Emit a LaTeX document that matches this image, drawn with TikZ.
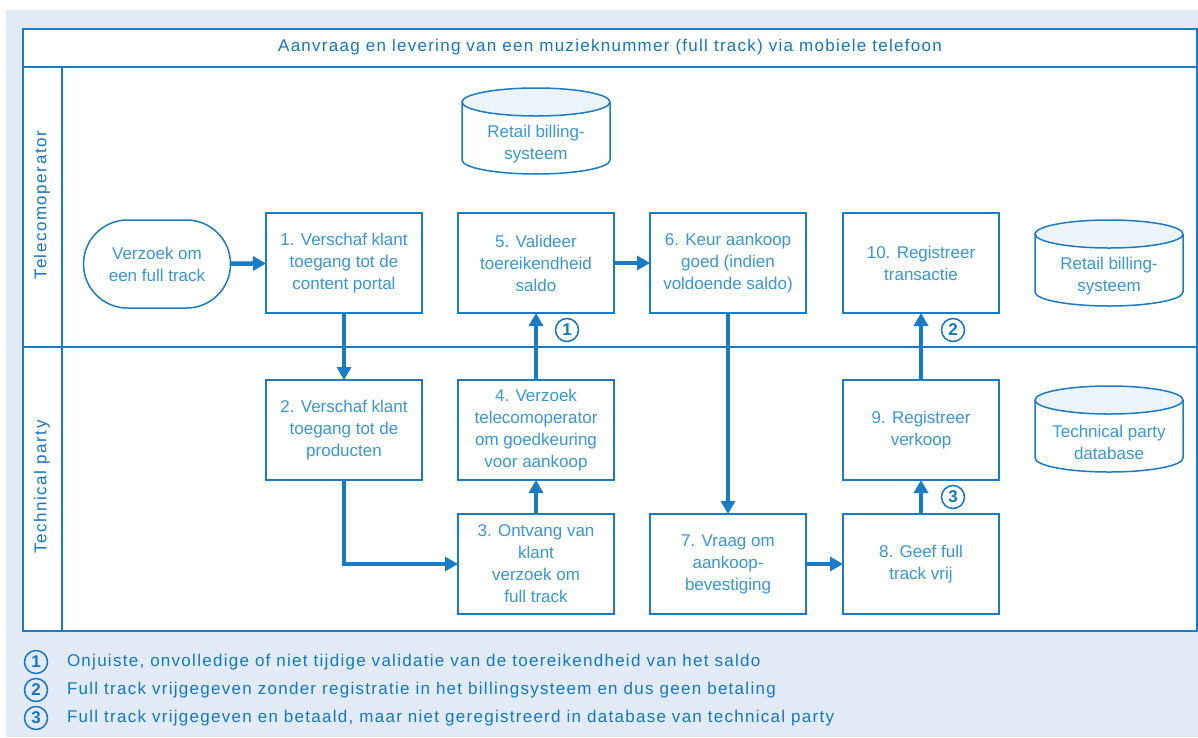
\documentclass[tikz,border=0pt]{standalone}
\usepackage{fontspec}
\setmainfont{Liberation Sans}
\newfontfamily\widefont[LetterSpace=7.5]{Liberation Sans}
\newfontfamily\lanefont[LetterSpace=9]{Liberation Sans}
\usetikzlibrary{arrows.meta}
\definecolor{bgblue}{HTML}{E1EAF5}
\definecolor{lineblue}{HTML}{1A7CC6}
\definecolor{boxtext}{HTML}{3A97D7}
\definecolor{darkblue}{HTML}{1577C2}
\definecolor{dbfill}{HTML}{EDF3FA}

\begin{document}
\begin{tikzpicture}[x=1pt,y=-1pt,
	every node/.style={inner sep=1,outer sep=0,font=\fontsize{17}{22}\selectfont},
	stepbox/.style={draw=lineblue,line width=1.5pt,fill=white,minimum width=156pt,minimum height=100pt,align=center,text=boxtext},
	startbox/.style={draw=lineblue,line width=1.5pt,rounded corners=44pt,minimum width=147pt,minimum height=88pt,align=center,text=boxtext},
	dbnode/.style={minimum width=148pt,minimum height=87pt,align=center,text=boxtext,yshift=-13pt},
	flow/.style={draw=lineblue,line width=4.5pt,-{Triangle[length=13pt,width=14pt]}},
	wide/.style={text=darkblue,font=\fontsize{17}{22}\selectfont\widefont},
	lane/.style={text=darkblue,rotate=90,font=\fontsize{17}{22}\selectfont\lanefont},
	num/.style={circle,draw=darkblue,line width=1.5pt,minimum size=23pt,inner sep=0,text=darkblue,font=\fontsize{17}{17}\selectfont\bfseries}]
	% background and frame
	\useasboundingbox (0,0) rectangle (1198,737);
	\fill[bgblue] (6,10) rectangle (1198,737);
	\draw[lineblue,line width=1.5pt,fill=white] (23,29) rectangle (1197,631);
	\draw[lineblue,line width=1.5pt] (23,67) -- (1197,67);
	\draw[lineblue,line width=1.5pt] (23,347) -- (1197,347);
	\draw[lineblue,line width=1.5pt] (62,67) -- (62,631);
	\node[wide] (title) at (610,47) {Aanvraag en levering van een muzieknummer (full track) via mobiele telefoon};
	\node[lane] (lane1) at (42,205) {Telecomoperator};
	\node[lane] (lane2) at (42,487) {Technical party};
	% databases
	\foreach \n/\x/\y/\t in {db1/536/131/{Retail billing-\\systeem},db2/1109/263/{Retail billing-\\systeem},db3/1109/429/{Technical party\\database}}{
		\fill[white] (\x-74,\y-29) rectangle (\x+74,\y+29);
		\fill[dbfill] (\x,\y-29) ellipse (74 and 14);
		\draw[lineblue,line width=1.5pt] (\x-74,\y-29) -- (\x-74,\y+29) arc (180:360:74pt and 14pt) -- (\x+74,\y-29);
		\draw[lineblue,line width=1.5pt] (\x,\y-29) ellipse (74 and 14);
		\node[dbnode] (\n) at (\x,\y) {\t};
	}
	% steps
	\node[startbox] (start) at (157,264) {Verzoek om\\een full track};
	\node[stepbox] (b1) at (344,263) {1. Verschaf klant\\toegang tot de\\content portal};
	\node[stepbox] (b5) at (536,263) {5. Valideer\\toereikendheid\\saldo};
	\node[stepbox] (b6) at (728,263) {6. Keur aankoop\\goed (indien\\voldoende saldo)};
	\node[stepbox] (b10) at (921,263) {10. Registreer\\transactie};
	\node[stepbox] (b2) at (344,430) {2. Verschaf klant\\toegang tot de\\producten};
	\node[stepbox] (b4) at (536,430) {4. Verzoek\\telecomoperator\\om goedkeuring\\voor aankoop};
	\node[stepbox] (b9) at (921,430) {9. Registreer\\verkoop};
	\node[stepbox] (b3) at (536,564) {3. Ontvang van\\klant\\verzoek om\\full track};
	\node[stepbox] (b7) at (728,564) {7. Vraag om\\aankoop-\\bevestiging};
	\node[stepbox] (b8) at (921,564) {8. Geef full\\track vrij};
	% flow
	\draw[flow] (start) -- (b1);
	\draw[flow] (b1) -- (b2);
	\draw[flow] (b2) |- (b3);
	\draw[flow] (b3) -- (b4);
	\draw[flow] (b4) -- (b5);
	\draw[flow] (b5) -- (b6);
	\draw[flow] (b6) -- (b7);
	\draw[flow] (b7) -- (b8);
	\draw[flow] (b8) -- (b9);
	\draw[flow] (b9) -- (b10);
	% risks
	\node[num] (r1) at (567,330) {1};
	\node[num] (r2) at (953,330) {2};
	\node[num] (r3) at (953,497) {3};
	% legend
	\node[num] (n1) at (36,662) {1};
	\node[num] (n2) at (36,690) {2};
	\node[num] (n3) at (36,718) {3};
	\node[wide,anchor=west] (t1) at (66,662) {Onjuiste, onvolledige of niet tijdige validatie van de toereikendheid van het saldo};
	\node[wide,anchor=west] (t2) at (66,690) {Full track vrijgegeven zonder registratie in het billingsysteem en dus geen betaling};
	\node[wide,anchor=west] (t3) at (66,718) {Full track vrijgegeven en betaald, maar niet geregistreerd in database van technical party};
\end{tikzpicture}
\end{document}
